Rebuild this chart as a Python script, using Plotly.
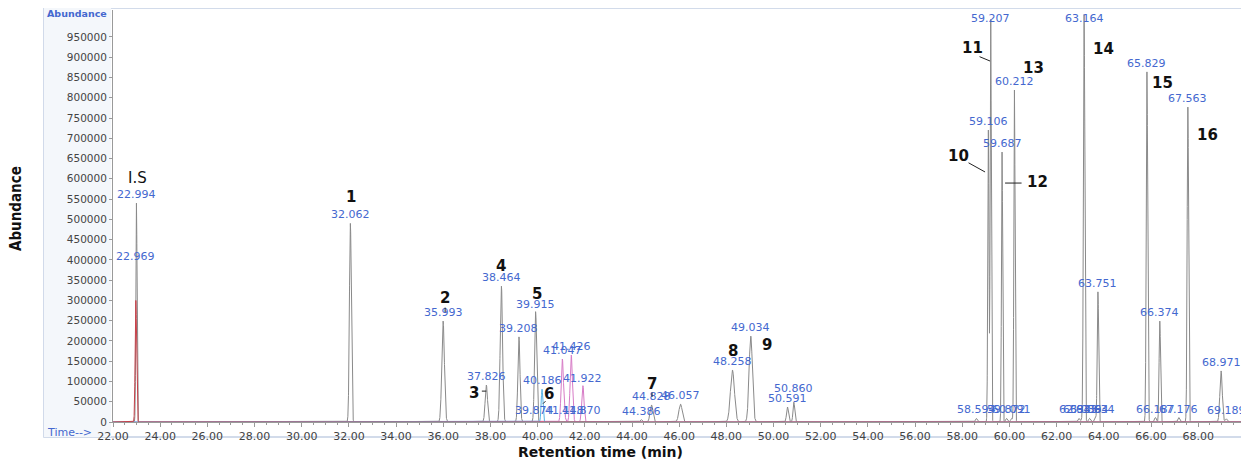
import numpy as np
import plotly.graph_objects as go

# ---------------- data ----------------
# main TIC trace (grey): retention time (min) and peak abundance
tic_rt = [22.994, 32.062, 35.993, 37.826, 38.464, 39.208, 39.874, 39.915,
          44.386, 44.828, 46.057, 48.258, 49.034, 50.591, 50.860,
          58.594, 59.106, 59.207, 59.687, 59.872, 60.091, 60.212,
          62.943, 63.086, 63.164, 63.394, 63.634, 63.751,
          65.829, 66.187, 66.374, 67.176, 67.563, 68.971, 69.189]
tic_abund = [540000, 490000, 249000, 91000, 335000, 210000, 8000, 269000,
             6000, 42000, 44000, 128000, 212000, 37000, 49000,
             9000, 720000, 994000, 666000, 9000, 9000, 819000,
             9000, 9000, 1004000, 9000, 9000, 321000,
             864000, 11000, 249000, 11000, 777000, 126000, 8000]
# pink trace
pink_rt = [41.047, 41.148, 41.426, 41.870, 41.922]
pink_abund = [155000, 8000, 165000, 8000, 86000]
# light-blue trace
cyan_rt = [40.186]
cyan_abund = [81000]
# red trace
red_rt = [22.969]
red_abund = [300000]

# compound numbers and the retention time of the peak they mark
compound_text = ["I.S", "1", "2", "3", "4", "5", "6", "7", "8", "9",
                 "10", "11", "12", "13", "14", "15", "16"]
compound_rt = [22.994, 32.062, 35.993, 37.826, 38.464, 39.915, 40.186, 44.828,
               48.258, 49.034, 59.106, 59.207, 59.687, 60.212, 63.164, 65.829, 67.563]

y_ticks = list(range(0, 1000000, 50000))
x_ticks = list(range(22, 70, 2))

# ---------------- styling ----------------
tic_sigma = [0.025, 0.04, 0.055, 0.05, 0.05, 0.045, 0.03, 0.045,
             0.04, 0.06, 0.07, 0.085, 0.07, 0.04, 0.035,
             0.04, 0.025, 0.025, 0.025, 0.04, 0.04, 0.025,
             0.04, 0.04, 0.03, 0.04, 0.04, 0.03,
             0.03, 0.04, 0.03, 0.04, 0.03, 0.05, 0.04]
pink_sigma = [0.05, 0.04, 0.05, 0.04, 0.045]
cyan_sigma = [0.035]
red_sigma = [0.03]

# label offsets in px relative to the peak top: (dx right, dy up)
compound_shift = [(1, 25), (1, 26), (2, 23), (-12, -8), (0, 20), (1.5, 19), (7, -5),
                  (0.5, 21), (1, 19), (16, -9), (-30, -26), (-18, -29), (35, -30),
                  (19, 22), (19, -34), (16, -11), (20, -28)]
# leader lines: anchor rt, tip (dx, dy-down), tail (dx, dy-down) in px
leaders = [(35.993, (2, -9), (2, -15)),
           (37.826, (0, 6), (-6, 6)),
           (40.186, (1, 14.5), (5, 10.5)),
           (44.828, (0.5, -8), (0.5, -14)),
           (59.106, (-3.3, 41.8), (-21.3, 31.8)),
           (59.207, (-0.7, 41.9), (-12.7, 36.9)),
           (59.687, (3, 31), (21, 31))]
label_extra_shift = {59.207: -8, 63.164: -12, 50.860: 5, 22.969: 35}

X_MIN, X_MAX = 22.0, 69.9
Y_MAX = 1016500

BLUE = "#4468cf"
GREY = "#8a8a8a"

x = np.linspace(X_MIN, X_MAX, 24000)


def trace_curve(rts, hs, sig):
    y = np.zeros_like(x)
    for r, h, s in zip(rts, hs, sig):
        y += h * np.exp(-0.5 * ((x - r) / s) ** 2)
    return y


fig = go.Figure()
fig.add_trace(go.Scatter(x=x, y=trace_curve(tic_rt, tic_abund, tic_sigma), mode="lines",
                         line=dict(color=GREY, width=1), hoverinfo="skip", showlegend=False))
fig.add_trace(go.Scatter(x=x, y=trace_curve(pink_rt, pink_abund, pink_sigma), mode="lines",
                         line=dict(color="#d77bc6", width=1), hoverinfo="skip", showlegend=False))
fig.add_trace(go.Scatter(x=x, y=trace_curve(cyan_rt, cyan_abund, cyan_sigma), mode="lines",
                         line=dict(color="#58b4e6", width=1), hoverinfo="skip", showlegend=False))
fig.add_trace(go.Scatter(x=x, y=trace_curve(red_rt, red_abund, red_sigma), mode="lines",
                         line=dict(color="#c8424a", width=1), hoverinfo="skip", showlegend=False))

annotations = []
# retention-time labels
all_rt = tic_rt + pink_rt + cyan_rt + red_rt
all_h = tic_abund + pink_abund + cyan_abund + red_abund
for r, h in zip(all_rt, all_h):
    annotations.append(dict(x=r, y=h, xref="x", yref="y", text=f"{r:.3f}", showarrow=False,
                            yanchor="bottom", xanchor="center",
                            yshift=label_extra_shift.get(r, 0),
                            font=dict(family="DejaVu Sans", size=11, color=BLUE)))

peak_height = dict(zip(all_rt, all_h))
# compound numbers
for t, r, (dx, dy) in zip(compound_text, compound_rt, compound_shift):
    label = t if t == "I.S" else f"<b>{t}</b>"
    annotations.append(dict(x=r, y=peak_height[r], xref="x", yref="y", text=label,
                            showarrow=False, xanchor="center", yanchor="middle",
                            xshift=dx, yshift=dy,
                            font=dict(family="DejaVu Sans", size=15, color="#111111")))
# leader lines
for r, (tx, ty), (lx, ly) in leaders:
    annotations.append(dict(x=r, y=peak_height[r], xref="x", yref="y", text="",
                            showarrow=True, arrowhead=0, arrowwidth=1, arrowcolor="#222222",
                            xshift=tx, yshift=-ty, ax=lx - tx, ay=ly - ty, standoff=0,
                            startstandoff=0))

# axis titles and instrument texts
annotations += [
    dict(x=-0.0319, y=0.9927, xref="paper", yref="paper", text="<b>Abundance</b>",
         showarrow=False, xanchor="center", yanchor="middle",
         font=dict(family="DejaVu Sans", size=9.5, color=BLUE)),
    dict(x=-0.0602, y=-0.0243, xref="paper", yref="paper", text="Time-->",
         showarrow=False, xanchor="left", yanchor="middle",
         font=dict(family="DejaVu Sans", size=11, color=BLUE)),
    dict(x=0.4310, y=-0.073, xref="paper", yref="paper", text="<b>Retention time (min)</b>",
         showarrow=False, xanchor="center", yanchor="middle",
         font=dict(family="DejaVu Sans", size=14, color="#111111")),
    dict(x=-0.0858, y=0.517, xref="paper", yref="paper", text="<b>Abundance</b>",
         showarrow=False, xanchor="center", yanchor="middle", textangle=-90,
         font=dict(family="Liberation Sans Narrow, DejaVu Sans Condensed, sans-serif",
                   size=15, color="#111111")),
]

shapes = [
    dict(type="rect", xref="paper", yref="paper", x0=-0.0611, x1=1.0018, y0=-0.0364, y1=1.0048,
         line=dict(color="#c3d0e4", width=1.5), fillcolor="rgba(0,0,0,0)", layer="below"),
    dict(type="rect", xref="paper", yref="paper", x0=-0.0611, x1=-0.0018, y0=-0.0364, y1=1.0048,
         line=dict(width=0), fillcolor="#f4f7fb", layer="below"),
]

# the page body adds an 8px margin, so the figure is 8px smaller and margins shifted
fig.update_layout(
    width=1241, height=455,
    margin=dict(l=105, r=6, t=2, b=41),
    paper_bgcolor="white", plot_bgcolor="white",
    annotations=annotations, shapes=shapes,
    showlegend=False,
    xaxis=dict(range=[X_MIN, X_MAX], tickvals=x_ticks,
               ticktext=[f"{v:.2f}" for v in x_ticks],
               showgrid=False, zeroline=False, showline=True, linecolor="#9a9a9a", linewidth=1,
               ticks="outside", ticklen=4, tickcolor="#9a9a9a", layer="below traces",
               minor=dict(dtick=0.5, ticks="outside", ticklen=2, tickcolor="#9a9a9a"),
               tickfont=dict(family="DejaVu Sans", size=11, color="#444444")),
    yaxis=dict(range=[0, Y_MAX], tickvals=y_ticks, ticktext=[str(v) for v in y_ticks],
               showgrid=False, zeroline=False, showline=True, linecolor="#9a9a9a", linewidth=1,
               ticks="outside", ticklen=3, tickcolor="#9a9a9a", layer="below traces",
               tickfont=dict(family="DejaVu Sans", size=10.5, color="#444444")),
)

fig.write_html("out.html")
